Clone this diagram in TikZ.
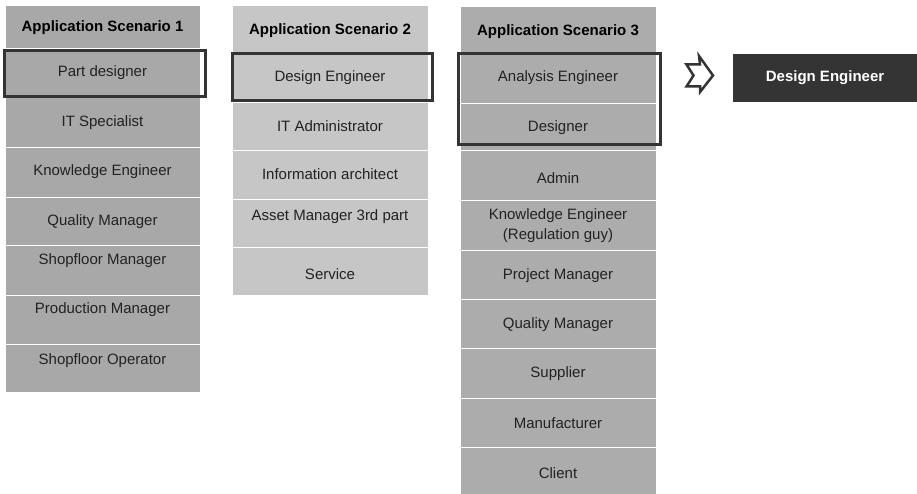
\documentclass[tikz,border=0pt]{standalone}
\usepackage{fontspec}
\setmainfont{Liberation Sans}
\definecolor{cA}{RGB}{168,168,168}
\definecolor{cB}{RGB}{198,198,198}
\definecolor{cC}{RGB}{172,172,172}
\definecolor{dk}{RGB}{52,52,52}
\definecolor{tx}{RGB}{34,34,34}
\begin{document}
\begin{tikzpicture}[x=1pt,y=-1pt,
  cell/.style={fill=#1,draw=white,line width=1.2pt,anchor=north west,inner sep=0pt},
  lbl/.style={text=tx,font=\fontsize{15}{20}\selectfont,inner sep=0pt,align=center},
  hdr/.style={text=black,font=\fontsize{15}{18}\selectfont\bfseries,inner sep=0pt},
  hl/.style={draw=dk,line width=3pt},
]
\useasboundingbox (0,0) rectangle (917,494);
% ---------- column 1 ----------
\node[cell=cA,minimum width=195pt,minimum height=43pt] (h1) at (5,5) {};
\node[cell=cA,minimum width=195pt,minimum height=49pt] (a1) at (5,48) {};
\node[cell=cA,minimum width=195pt,minimum height=50pt] (a2) at (5,97) {};
\node[cell=cA,minimum width=195pt,minimum height=50pt] (a3) at (5,147) {};
\node[cell=cA,minimum width=195pt,minimum height=48pt] (a4) at (5,197) {};
\node[cell=cA,minimum width=195pt,minimum height=50pt] (a5) at (5,245) {};
\node[cell=cA,minimum width=195pt,minimum height=49pt] (a6) at (5,295) {};
\node[cell=cA,minimum width=195pt,minimum height=48pt] (a7) at (5,344) {};
\node[hdr] (th1) at (102.5,28) {Application Scenario 1};
\node[lbl] (ta1) at (102.5,73) {Part designer};
\node[lbl] (ta2) at (102.5,123) {IT Specialist};
\node[lbl] (ta3) at (102.5,172) {Knowledge Engineer};
\node[lbl] (ta4) at (102.5,222) {Quality Manager};
\node[lbl] (ta5) at (102.5,261) {Shopfloor Manager};
\node[lbl] (ta6) at (102.5,310) {Production Manager};
\node[lbl] (ta7) at (102.5,361) {Shopfloor Operator};
\draw[hl] (4.5,50.5) rectangle (205.5,96.5);
% ---------- column 2 ----------
\node[cell=cB,minimum width=196pt,minimum height=47pt] (h2) at (232,5) {};
\node[cell=cB,minimum width=196pt,minimum height=50pt] (b1) at (232,52) {};
\node[cell=cB,minimum width=196pt,minimum height=48pt] (b2) at (232,102) {};
\node[cell=cB,minimum width=196pt,minimum height=49pt] (b3) at (232,150) {};
\node[cell=cB,minimum width=196pt,minimum height=48pt] (b4) at (232,199) {};
\node[cell=cB,minimum width=196pt,minimum height=48pt] (b5) at (232,247) {};
\node[hdr] (th2) at (330,31) {Application Scenario 2};
\node[lbl] (tb1) at (330,78) {Design Engineer};
\node[lbl] (tb2) at (330,126) {IT Administrator};
\node[lbl] (tb3) at (330,174) {Information architect};
\node[lbl] (tb4) at (330,217) {Asset Manager 3rd part};
\node[lbl] (tb5) at (330,274) {Service};
\draw[hl] (232.5,53.5) rectangle (432.5,100.5);
% ---------- column 3 ----------
\node[cell=cC,minimum width=196pt,minimum height=46pt] (h3) at (460,6) {};
\node[cell=cC,minimum width=196pt,minimum height=51pt] (c1) at (460,52) {};
\node[cell=cC,minimum width=196pt,minimum height=47pt] (c2) at (460,103) {};
\node[cell=cC,minimum width=196pt,minimum height=50pt] (c3) at (460,150) {};
\node[cell=cC,minimum width=196pt,minimum height=50pt] (c4) at (460,200) {};
\node[cell=cC,minimum width=196pt,minimum height=49pt] (c5) at (460,250) {};
\node[cell=cC,minimum width=196pt,minimum height=49pt] (c6) at (460,299) {};
\node[cell=cC,minimum width=196pt,minimum height=50pt] (c7) at (460,348) {};
\node[cell=cC,minimum width=196pt,minimum height=49pt] (c8) at (460,398) {};
\node[cell=cC,minimum width=196pt,minimum height=48pt] (c9) at (460,447) {};
\node[hdr] (th3) at (558,32) {Application Scenario 3};
\node[lbl] (tc1) at (558,78) {Analysis Engineer};
\node[lbl] (tc2) at (558,128) {Designer};
\node[lbl] (tc3) at (558,178) {Admin};
\node[lbl] (tc4) at (558,226) {Knowledge Engineer\\(Regulation guy)};
\node[lbl] (tc5) at (558,276) {Project Manager};
\node[lbl] (tc6) at (558,325) {Quality Manager};
\node[lbl] (tc7) at (558,374) {Supplier};
\node[lbl] (tc8) at (558,423) {Manufacturer};
\node[lbl] (tc9) at (558,473) {Client};
\draw[hl] (458.5,53.5) rectangle (660.5,144.5);
% ---------- arrow and result ----------
\draw[draw=dk,fill=white,line width=2.5pt,line join=miter]
  (699,56) -- (713,75.5) -- (700,92) -- (700,86.5) -- (686.5,86.5)
  -- (693.5,75.5) -- (686.5,64.5) -- (700,64.5) -- cycle;
\node[fill=dk,anchor=north west,minimum width=184pt,minimum height=48pt,inner sep=0pt] (res) at (733,54) {};
\node[hdr,text=white] (tres) at (825,78) {Design Engineer};
\end{tikzpicture}
\end{document}
